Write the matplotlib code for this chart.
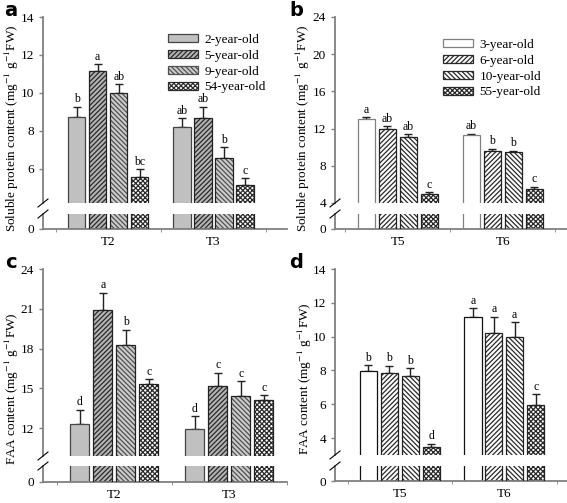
import numpy as np
import matplotlib
matplotlib.use("Agg")
import matplotlib.pyplot as plt

plt.rcParams["font.family"] = "Liberation Serif"
plt.rcParams["mathtext.fontset"] = "stix"
plt.rcParams["hatch.linewidth"] = 0.9

# ---- data ----
groups_ac = ["T2", "T3"]
groups_bd = ["T5", "T6"]
ages_ac = ["2-year-old", "5-year-old", "9-year-old", "54-year-old"]
ages_bd = ["3-year-old", "6-year-old", "10-year-old", "55-year-old"]

# soluble protein, one row per group
a_means = [[8.75, 11.15, 10.0, 5.55], [8.2, 8.7, 6.55, 5.15]]
a_errs = [[0.53, 0.35, 0.46, 0.44], [0.47, 0.58, 0.58, 0.35]]
a_letters = [["b", "a", "ab", "bc"], ["ab", "ab", "b", "c"]]

b_means = [[13.0, 11.96, 11.15, 4.97], [11.28, 9.63, 9.45, 5.54]]
b_errs = [[0.21, 0.29, 0.22, 0.18], [0.18, 0.21, 0.18, 0.22]]
b_letters = [["a", "ab", "ab", "c"], ["ab", "b", "b", "c"]]

# free amino acids
c_means = [[12.3, 20.88, 18.3, 15.3], [11.9, 15.18, 14.4, 14.1]]
c_errs = [[1.1, 1.32, 1.12, 0.38], [1.0, 1.0, 1.12, 0.4]]
c_letters = [["d", "a", "b", "c"], ["d", "c", "c", "c"]]

d_means = [[7.94, 7.84, 7.68, 3.5], [11.15, 10.22, 9.96, 5.96]]
d_errs = [[0.37, 0.45, 0.45, 0.16], [0.53, 0.96, 0.88, 0.65]]
d_letters = [["b", "b", "b", "d"], ["a", "a", "a", "c"]]

# bar looks: (face, hatch, hatch colour)
style_ac = [("#c0c0c0", None, None), ("#b4b4b4", "///////", "#2a2a2a"),
            ("#cccccc", "\\\\\\\\\\\\\\", "#505050"), ("white", "xxxxxxx", "#2a2a2a")]
style_bd = [("white", None, None), ("white", "///////", "#2a2a2a"),
            ("white", "\\\\\\\\\\\\\\", "#2a2a2a"), ("white", "xxxxxxx", "#2a2a2a")]

W, H = 567, 503
SPINE = "#808080"


def px_rect(left, right, top, bottom):
    return [left / W, 1 - bottom / H, (right - left) / W, (bottom - top) / H]


def draw_bar(ax, x, h, width, style, edge):
    face, hatch, hcol = style
    if hatch is None:
        ax.bar(x, h, width, color=face, edgecolor=edge, linewidth=0.9, zorder=2)
        return
    # hatch in its own colour, then a dark outline on top
    ax.bar(x, h, width, color=face, hatch=hatch, edgecolor=hcol, linewidth=0, zorder=2)
    ax.bar(x, h, width, fill=False, edgecolor="#222222", linewidth=0.9, zorder=3)


def panel(fig, box, lower_box, means, errs, letters, groups, ages, styles,
          ylim, yticks, xlim, ylabel, label_xy, tag, tag_xy, edge0, legend_pos=None):
    up = fig.add_axes(px_rect(*box))
    lo = fig.add_axes(px_rect(*lower_box))
    means = np.array(means)
    errs = np.array(errs)
    width = 0.165
    for g in range(len(groups)):
        for i in range(4):
            x = g + (i - 1.5) * 0.2
            for ax in (up, lo):
                draw_bar(ax, x, means[g, i], width, styles[i], edge0)
            up.errorbar(x, means[g, i], yerr=[[0], [errs[g, i]]], fmt="none",
                        ecolor="#222222", elinewidth=1, capsize=3, capthick=1, zorder=1)
            up.annotate(letters[g][i], (x, means[g, i] + errs[g, i]),
                        xytext=(0, 1), textcoords="offset points",
                        ha="center", va="bottom", fontsize=8.5)
    up.set_ylim(*ylim)
    up.set_yticks(yticks)
    lo.set_ylim(0, 1)
    lo.set_yticks([0])
    for ax in (up, lo):
        ax.set_xlim(*xlim)
        for s in ("top", "right"):
            ax.spines[s].set_visible(False)
        ax.spines["left"].set_color(SPINE)
        ax.spines["left"].set_linewidth(1.3)
        ax.tick_params(axis="y", colors=SPINE, labelcolor="black",
                       labelsize=9.5, length=3, width=1, direction="out")
    up.spines["bottom"].set_visible(False)
    up.set_xticks([])
    lo.spines["bottom"].set_color(SPINE)
    lo.spines["bottom"].set_linewidth(1.3)
    lo.set_xticks(range(len(groups)))
    lo.set_xticklabels(groups, fontsize=9.5)
    lo.tick_params(axis="x", length=0, pad=5)
    lo.set_xticks([-0.5, 0.5, 1.5], minor=True)
    lo.tick_params(axis="x", which="minor", length=2, color=SPINE, direction="out")

    # break marks on the left spine
    x0 = box[0]
    for ypx in (box[3], lower_box[2]):
        fig.add_artist(plt.Line2D([(x0 - 5) / W, (x0 + 5) / W],
                                  [1 - (ypx + 4) / H, 1 - (ypx - 4) / H],
                                  transform=fig.transFigure, color="black", lw=0.8))

    fig.text(label_xy[0] / W, 1 - label_xy[1] / H, ylabel, rotation=90,
             ha="center", va="center", fontsize=9.5)
    fig.text(tag_xy[0] / W, 1 - tag_xy[1] / H, tag, fontsize=14, weight="bold",
             family="DejaVu Sans", ha="center", va="center")
    if legend_pos is not None:
        handles = []
        for face, hatch, hcol in styles:
            if hatch is None:
                handles.append(plt.Rectangle((0, 0), 1, 1, facecolor=face,
                                             edgecolor=edge0, linewidth=0.9))
            else:
                handles.append(plt.Rectangle((0, 0), 1, 1, facecolor=face, hatch=hatch,
                                             edgecolor=hcol, linewidth=0.9))
        up.legend(handles, ages, loc="upper left", bbox_to_anchor=legend_pos,
                  bbox_transform=fig.transFigure, frameon=False, fontsize=9.5,
                  handlelength=2.3, handleheight=0.55, labelspacing=0.3,
                  handletextpad=0.5, borderpad=0)
    return up, lo


fig = plt.figure(figsize=(W / 100, H / 100), dpi=100)

protein_label = "Soluble protein content (mg$^{-1}$ g$^{-1}$FW)"
faa_label = "FAA content (mg$^{-1}$ g$^{-1}$FW)"

panel(fig, (43, 287, 17, 203), (43, 287, 214, 229), a_means, a_errs, a_letters,
      groups_ac, ages_ac, style_ac, (4.2, 14), [6, 8, 10, 12, 14], (-0.62, 1.7),
      protein_label, (12, 128), "a", (11, 10), "#444444",
      legend_pos=(161 / W, 1 - 27 / H))

panel(fig, (335, 567, 17, 203), (335, 567, 214, 229), b_means, b_errs, b_letters,
      groups_bd, ages_bd, style_bd, (4, 24), [4, 8, 12, 16, 20, 24], (-0.6, 1.61),
      protein_label, (303, 128), "b", (296, 10), "#808080",
      legend_pos=(436 / W, 1 - 32 / H))

panel(fig, (43, 287, 269, 456), (43, 287, 466, 482), c_means, c_errs, c_letters,
      groups_ac, ages_ac, style_ac, (9.9, 24), [12, 15, 18, 21, 24], (-0.62, 1.5),
      faa_label, (12, 389), "c", (11, 262), "#444444")

panel(fig, (335, 567, 269, 455), (335, 567, 466, 481), d_means, d_errs, d_letters,
      groups_bd, ages_bd, style_bd, (3, 14), [4, 6, 8, 10, 12, 14], (-0.62, 1.6),
      faa_label, (305, 379), "d", (296, 262), "#111111")

fig.savefig("out.png", dpi=100)
